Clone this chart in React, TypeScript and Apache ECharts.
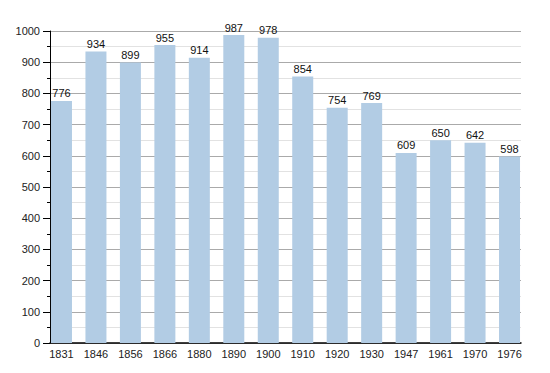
import React, { useEffect, useRef } from "react";
import * as echarts from "echarts";

const years = ["1831", "1846", "1856", "1866", "1880", "1890", "1900", "1910", "1920", "1930", "1947", "1961", "1970", "1976"];
const population = [776, 934, 899, 955, 914, 987, 978, 854, 754, 769, 609, 650, 642, 598];
const yMin = 0;
const yMax = 1000;
const yStep = 100;

export default function App() {
  const ref = useRef<HTMLDivElement>(null);
  useEffect(() => {
    if (!ref.current) return;
    const chart = echarts.init(ref.current, null, { renderer: "svg" });
    const font = "Liberation Sans, Arial, sans-serif";
    chart.setOption({
      animation: false,
      backgroundColor: "#ffffff",
      grid: [
        { left: 50, right: 29, top: 31, bottom: 30 },
        { left: 44.25, right: 23.25, top: 31, bottom: 30 },
      ],
      xAxis: [
        {
          type: "category",
          gridIndex: 0,
          data: years,
          axisLine: { show: true, lineStyle: { color: "#000", width: 1.5 } },
          axisTick: { show: false },
          axisLabel: { show: false },
          splitLine: { show: false },
        },
        {
          type: "category",
          gridIndex: 1,
          data: years,
          axisLine: { show: false },
          axisTick: { show: false },
          axisLabel: { show: true, color: "#222", fontSize: 11, fontFamily: font, margin: 5, interval: 0 },
          splitLine: { show: false },
        },
      ],
      yAxis: [
        {
          type: "value",
          gridIndex: 0,
          min: yMin,
          max: yMax,
          interval: yStep,
          axisLine: { show: true, lineStyle: { color: "#000", width: 1 } },
          axisTick: { show: true, length: 7, lineStyle: { color: "#000" } },
          minorTick: { show: true, splitNumber: 2, length: 3, lineStyle: { color: "#000" } },
          axisLabel: {
            color: "#222",
            fontSize: 11,
            fontFamily: font,
            margin: 10,
            formatter: (v: number) => String(v),
          },
          splitLine: { show: true, lineStyle: { color: "#aaaaaa", width: 1 } },
          minorSplitLine: { show: true, lineStyle: { color: "#e2e2e2", width: 1 } },
        },
        {
          type: "value",
          gridIndex: 1,
          min: yMin,
          max: yMax,
          interval: yStep,
          show: false,
          splitLine: { show: false },
        },
      ],
      series: [
        {
          type: "bar",
          xAxisIndex: 1,
          yAxisIndex: 1,
          data: population,
          barWidth: 21,
          itemStyle: { color: "#b2cce4" },
          label: {
            show: true,
            position: "top",
            distance: 2,
            color: "#111",
            fontSize: 11,
            fontFamily: font,
          },
        },
      ],
    });
    return () => chart.dispose();
  }, []);
  return <div ref={ref} style={{ width: 550, height: 373, margin: -8 }} />;
}
